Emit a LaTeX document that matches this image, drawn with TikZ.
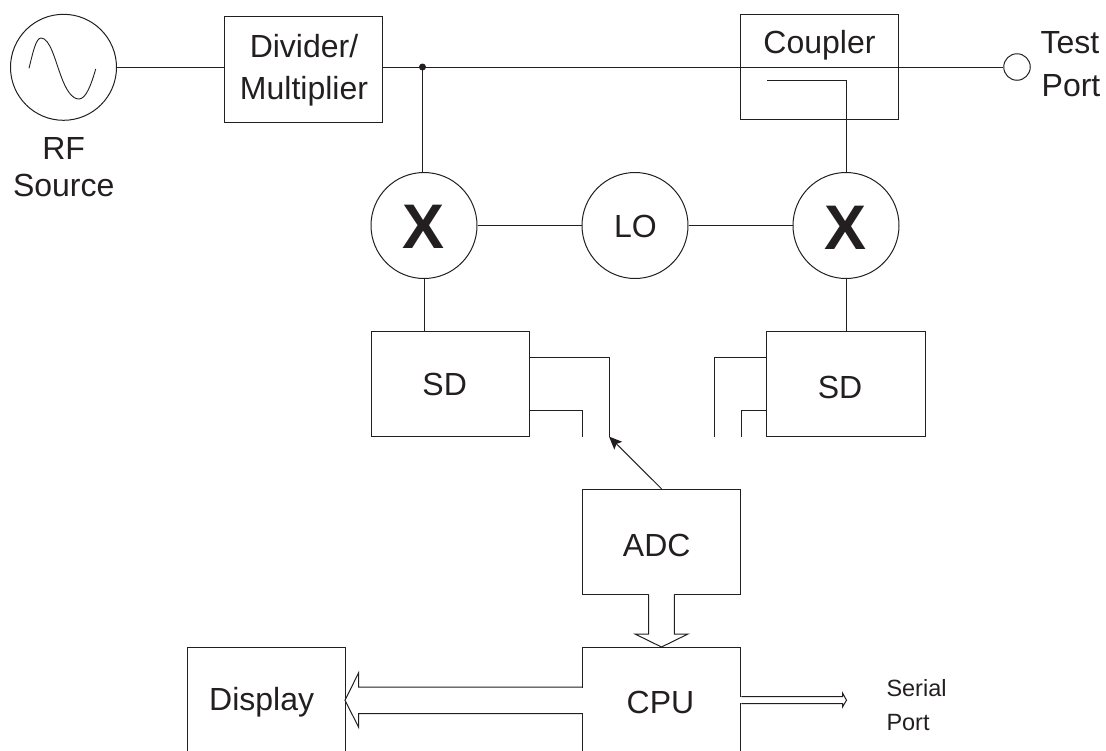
\documentclass[tikz,border=0pt]{standalone}
\usepackage{fontspec}
\usetikzlibrary{arrows.meta}
\setmainfont{Liberation Sans}
\definecolor{ink}{HTML}{231F20}
\tikzset{
  txt/.style={text=ink,font=\fontsize{32}{42}\selectfont,inner sep=0pt,anchor=base},
  small/.style={text=ink,font=\fontsize{23.5}{34}\selectfont,inner sep=0pt,anchor=base west},
  boxn/.style={draw=ink,line width=1pt,rectangle,minimum width=158.5pt,minimum height=105.5pt,inner sep=0pt},
  circ/.style={draw=ink,line width=1pt,circle,minimum size=106pt,inner sep=0pt},
  mark x/.style={text=ink,font=\bfseries\fontsize{63}{63}\selectfont,inner sep=0pt,anchor=base},
}
\begin{document}
\begin{tikzpicture}[x=1pt,y=-1pt,color=ink,line width=1pt]
\useasboundingbox (0,0) rectangle (1106,750);
\clip (0,0) rectangle (1106,750);
% shapes
\node[circ] (rf) at (63.5,67.3) {};
\node[boxn] (div) at (303.3,69.5) {};
\node[boxn] (coup) at (819.7,67) {};
\node[circ,minimum size=26.5pt] (tp) at (1017,67) {};
\node[circ] (m1) at (424,225.5) {};
\node[circ] (lo) at (635,225.5) {};
\node[circ] (m2) at (846,225.5) {};
\node[boxn] (sd1) at (450.5,383.8) {};
\node[boxn] (sd2) at (846,383.8) {};
\node[boxn] (adc) at (661.5,542) {};
\node[boxn,minimum height=106pt] (cpu) at (661.5,700.3) {};
\node[boxn,minimum width=158pt,minimum height=106pt] (disp) at (266,700.5) {};
% texts
\node[txt] (t1) at (63.7,159) {RF};
\node[txt] (t2) at (63.7,196) {Source};
\node[txt] (t3) at (304,57) {Divider/};
\node[txt] (t4) at (304,99) {Multiplier};
\node[txt] (t5) at (819.5,53) {Coupler};
\node[txt] (t6) at (1070,53) {Test};
\node[txt] (t7) at (1071,96) {Port};
\node[mark x] (x1) at (424,248) {X};
\node[mark x] (x2) at (846,249) {X};
\node[txt] (t8) at (635.5,237.5) {LO};
\node[txt] (t9) at (444.7,395) {SD};
\node[txt] (t10) at (840,398) {SD};
\node[txt] (t11) at (656.7,556) {ADC};
\node[txt] (t12) at (660.5,713.5) {CPU};
\node[txt] (t13) at (261.7,710.7) {Display};
\node[small] (t14) at (886,696) {Serial};
\node[small] (t15) at (886,730) {Port};
% sine
\draw[line width=.9pt] (29,68.3) .. controls (33,52) and (36,38) .. (41,38) .. controls (50,38) and (55,60) .. (61,76) .. controls (66,90) and (72,99) .. (79,99) .. controls (86,99) and (91.5,84) .. (95.7,69);
% connectors
\coordinate (j) at (422.5,67);
\coordinate (c1) at (767,80);
\coordinate (c2) at (846,80);
\coordinate (e1) at (609,436.5);
\coordinate (e2) at (582.5,436.5);
\coordinate (e3) at (714,436.5);
\coordinate (e4) at (741,436.5);
\draw (rf.east) -- (rf.east -| div.west);
\draw (div.east |- j) -- (tp.west);
\fill (j) circle (3.5);
\draw (j) -- (j |- m1.north);
\draw (c1) -- (c2) -- (m2.north);
\draw (m1.east) -- (lo.west);
\draw (lo.east) -- (m2.west);
\draw (m1.south) -- (sd1.north -| m1.south);
\draw (m2.south) -- (sd2.north);
\draw (sd1.east |- 0,357) -| (e1);
\draw (sd1.east |- 0,410) -| (e2);
\draw (sd2.west |- 0,357) -| (e3);
\draw (sd2.west |- 0,410) -| (e4);
\draw[-{Stealth[length=13pt,width=11pt,inset=2.5pt]}] (adc.north) -- (e1);
% openings where the bus arrows leave the boxes
\fill[white] (649.3,593) rectangle (673.7,596.5);
\fill[white] (580.5,687.6) rectangle (584.5,712.9);
\fill[white] (739.5,697.3) rectangle (743.5,703.1);
% hollow bus arrows
\draw[fill=white] (648.7,594.7) -- (648.7,634) -- (635,634) -- (661.5,647) -- (688,634) -- (674.3,634) -- (674.3,594.7);
\draw[fill=white] (cpu.west |- 0,687) -- (358.5,687) -- (358.5,673) -- (345,700.3) -- (358.5,727) -- (358.5,713.5) -- (cpu.west |- 0,713.5);
\draw[fill=white] (cpu.east |- 0,696.7) -- (842.7,696.7) -- (842.7,693.3) -- (846.5,700.2) -- (842.7,706.7) -- (842.7,703.7) -- (cpu.east |- 0,703.7);
\end{tikzpicture}
\end{document}
